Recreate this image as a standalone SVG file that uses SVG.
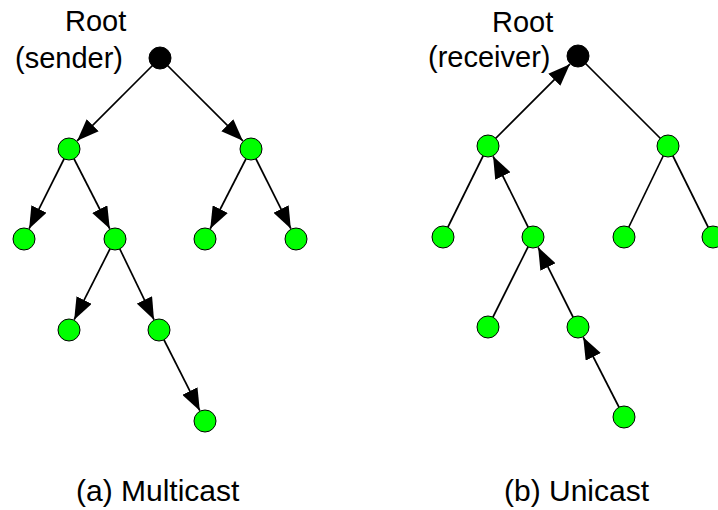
<svg xmlns="http://www.w3.org/2000/svg" width="718" height="510" viewBox="0 0 718 510">
  <style>
    .edge { stroke: #000; stroke-width: 1.7; fill: none; }
    .arrow { marker-end: url(#head); }
    .node { fill: #00ff00; stroke: #000; stroke-width: 1; }
    .root { fill: #000; stroke: #000; stroke-width: 1; }
    .label { font-family: "Liberation Sans", Arial, sans-serif; font-size: 29px; fill: #000; }
    .caption { font-family: "Liberation Sans", Arial, sans-serif; font-size: 30px; fill: #000; }
  </style>
  <defs>
    <marker id="head" markerUnits="userSpaceOnUse" markerWidth="22" markerHeight="17" refX="22" refY="8.5" orient="auto">
      <path d="M0,0 L22,8.5 L0,17 Z" fill="#000"/>
    </marker>
  </defs>
  <rect width="718" height="510" fill="#fff"/>

  <!-- connectors -->
  <g id="connectors">
    <!-- (a) multicast: root pushes data down to every member -->
    <line class="edge arrow" x1="160" y1="58" x2="77.13" y2="140.87"/>
    <line class="edge arrow" x1="160" y1="58" x2="242.87" y2="140.87"/>
    <line class="edge arrow" x1="69" y1="149" x2="29.14" y2="228.71"/>
    <line class="edge arrow" x1="69" y1="149" x2="109.77" y2="228.76"/>
    <line class="edge arrow" x1="251" y1="149" x2="210.23" y2="228.76"/>
    <line class="edge arrow" x1="251" y1="149" x2="290.86" y2="228.71"/>
    <line class="edge arrow" x1="115" y1="239" x2="74.19" y2="319.74"/>
    <line class="edge arrow" x1="115" y1="239" x2="153.99" y2="319.65"/>
    <line class="edge arrow" x1="159" y1="330" x2="199.81" y2="410.74"/>

    <!-- (b) unicast: a single leaf sends up to the root -->
    <line class="edge arrow" x1="488" y1="146" x2="569.87" y2="64.13"/>
    <line class="edge" x1="578" y1="56" x2="668" y2="146"/>
    <line class="edge" x1="488" y1="146" x2="443" y2="237"/>
    <line class="edge arrow" x1="533" y1="237" x2="493.10" y2="156.31"/>
    <line class="edge" x1="668" y1="146" x2="624" y2="237"/>
    <line class="edge" x1="668" y1="146" x2="713" y2="237"/>
    <line class="edge" x1="533" y1="237" x2="488" y2="327"/>
    <line class="edge arrow" x1="578" y1="327" x2="538.14" y2="247.29"/>
    <line class="edge arrow" x1="624" y1="417" x2="583.23" y2="337.24"/>
  </g>

  <!-- tree (a) nodes -->
  <g id="a-root"><circle class="root" cx="160" cy="58" r="11"/></g>
  <g id="a-n1"><circle class="node" cx="69" cy="149" r="11"/></g>
  <g id="a-n2"><circle class="node" cx="251" cy="149" r="11"/></g>
  <g id="a-n3"><circle class="node" cx="24" cy="239" r="11"/></g>
  <g id="a-n4"><circle class="node" cx="115" cy="239" r="11"/></g>
  <g id="a-n5"><circle class="node" cx="205" cy="239" r="11"/></g>
  <g id="a-n6"><circle class="node" cx="296" cy="239" r="11"/></g>
  <g id="a-n7"><circle class="node" cx="69" cy="330" r="11"/></g>
  <g id="a-n8"><circle class="node" cx="159" cy="330" r="11"/></g>
  <g id="a-n9"><circle class="node" cx="205" cy="421" r="11"/></g>

  <!-- tree (b) nodes -->
  <g id="b-root"><circle class="root" cx="578" cy="56" r="11"/></g>
  <g id="b-n1"><circle class="node" cx="488" cy="146" r="11"/></g>
  <g id="b-n2"><circle class="node" cx="668" cy="146" r="11"/></g>
  <g id="b-n3"><circle class="node" cx="443" cy="237" r="11"/></g>
  <g id="b-n4"><circle class="node" cx="533" cy="237" r="11"/></g>
  <g id="b-n5"><circle class="node" cx="624" cy="237" r="11"/></g>
  <g id="b-n6"><circle class="node" cx="713" cy="237" r="11"/></g>
  <g id="b-n7"><circle class="node" cx="488" cy="327" r="11"/></g>
  <g id="b-n8"><circle class="node" cx="578" cy="327" r="11"/></g>
  <g id="b-n9"><circle class="node" cx="624" cy="417" r="11"/></g>

  <!-- labels -->
  <g id="a-root-label">
    <text class="label" x="65" y="31">Root</text>
    <text class="label" x="15" y="68">(sender)</text>
  </g>
  <g id="b-root-label">
    <text class="label" x="492" y="32">Root</text>
    <text class="label" x="428" y="67">(receiver)</text>
  </g>
  <text class="caption" x="76" y="501">(a) Multicast</text>
  <text class="caption" x="504" y="501">(b) Unicast</text>
</svg>
